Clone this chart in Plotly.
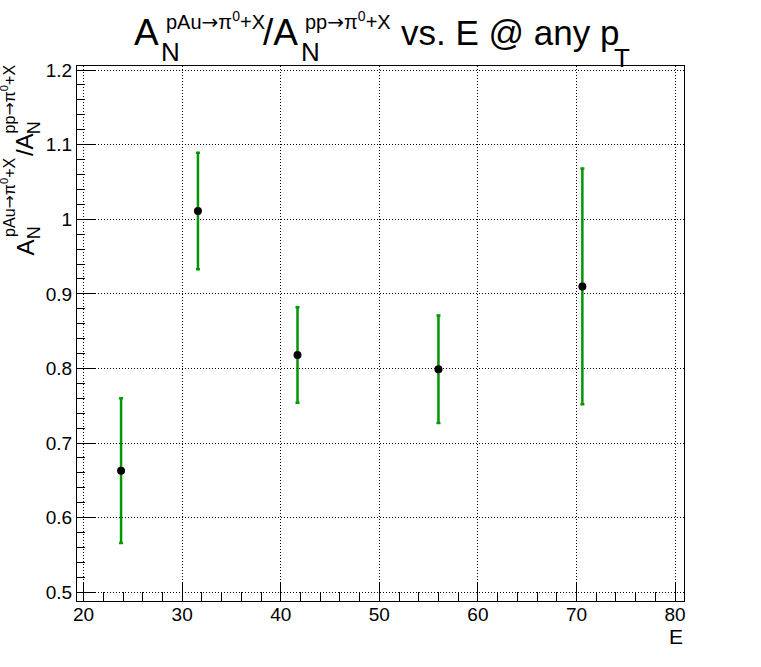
import plotly.graph_objects as go

# ---- data ----
energy = [23.8, 31.6, 41.7, 56.0, 70.6]
ratio = [0.663, 1.011, 0.818, 0.799, 0.910]
ratio_err = [0.097, 0.078, 0.064, 0.072, 0.158]

x_ticks = [20, 30, 40, 50, 60, 70, 80]
y_ticks = [0.5, 0.6, 0.7, 0.8, 0.9, 1.0, 1.1, 1.2]

FONT = "Liberation Sans, Arial, Helvetica, sans-serif"
ARROW = "<span style='font-family:DejaVu Sans'>→</span>"
W, H = 761, 667
ML, MT = 77, 66
PW, PH = 607, 535
MR, MB = W - ML - PW, H - MT - PH


def pxx(px):
    return (px - ML) / PW


def pxy(py):
    return (MT + PH - py) / PH


fig = go.Figure()
fig.add_trace(go.Scatter(
    x=energy, y=ratio, mode="markers",
    marker=dict(color="black", size=8, symbol="circle"),
    error_y=dict(type="data", array=ratio_err, visible=True,
                 color="rgb(0,150,0)", thickness=2.5, width=2),
    showlegend=False,
))

annotations = []


def htext(text, left, baseline, size):
    annotations.append(dict(
        text=text, xref="paper", yref="paper", align="left",
        x=pxx(left), y=pxy(baseline + 0.212 * size),
        xanchor="left", yanchor="bottom", showarrow=False,
        borderpad=0, font=dict(family=FONT, size=size, color="black")))


def vtext(text, start_y, baseline_x, size):
    annotations.append(dict(
        text=text, xref="paper", yref="paper", textangle=-90, align="left",
        x=pxx(baseline_x + 0.212 * size), y=pxy(start_y),
        xanchor="right", yanchor="bottom", showarrow=False,
        borderpad=0, font=dict(family=FONT, size=size, color="black")))


sup_pAu = "pAu" + ARROW + "π<sup>0</sup>+X"
sup_pp = "pp" + ARROW + "π<sup>0</sup>+X"

# title
htext("A", 133, 46, 37)
htext("N", 160, 62, 26)
htext(sup_pAu, 165, 31, 20)
htext("/A", 262, 46, 37)
htext("N", 300, 62, 26)
htext(sup_pp, 304, 31, 20)
htext("vs. E @ any p", 400, 46, 35)
htext("T", 613, 68, 26)

# y-axis title
vtext("A", 257, 34, 24)
vtext("N", 240, 41, 18)
vtext(sup_pAu, 238, 17, 16)
vtext("/A", 157, 34, 24)
vtext("N", 135, 41, 18)
vtext(sup_pp, 134, 17, 16)

# x-axis title
annotations.append(dict(
    text="E", xref="paper", yref="paper", x=pxx(684), y=pxy(645 + 0.212 * 21),
    xanchor="right", yanchor="bottom", showarrow=False, borderpad=0,
    font=dict(family=FONT, size=21, color="black")))

axis_common = dict(
    showline=True, linecolor="black", linewidth=1, mirror=True,
    showgrid=True, gridcolor="black", gridwidth=1, griddash="1px,2px",
    zeroline=False, ticks="inside", tickcolor="black", tickwidth=1,
    ticklen=18, tickfont=dict(family=FONT, size=19, color="black"),
)

fig.update_layout(
    width=W, height=H,
    margin=dict(l=ML, r=MR, t=MT, b=MB, autoexpand=False),
    paper_bgcolor="white", plot_bgcolor="white",
    xaxis=dict(range=[19.33, 80.91], tickvals=x_ticks,
               ticktext=[str(v) for v in x_ticks], ticklabelstandoff=-4,
               minor=dict(ticks="inside", ticklen=9, dtick=2, tick0=0,
                          tickcolor="black", showgrid=False),
               **axis_common),
    yaxis=dict(range=[0.4883, 1.2054], tickvals=y_ticks,
               ticktext=[f"{v:g}" for v in y_ticks],
               minor=dict(ticks="inside", ticklen=8, dtick=0.02, tick0=0,
                          tickcolor="black", showgrid=False),
               **axis_common),
    annotations=annotations,
    font=dict(family=FONT, color="black"),
)

fig.write_html("out.html", config={"displayModeBar": False},
               post_script="document.body.style.margin='0';"
                           "document.body.style.overflow='hidden';")
